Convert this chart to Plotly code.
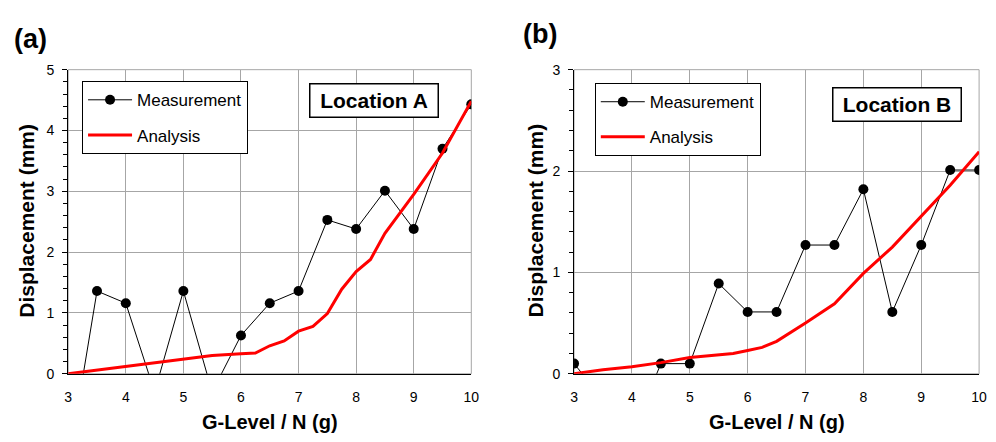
import plotly.graph_objects as go

# ---- data ----
g_levels = [3, 3.5, 4, 4.5, 5, 5.5, 6, 6.5, 7, 7.5, 8, 8.5, 9, 9.5, 10]
meas_a = [-1.5, 1.36, 1.16, -0.3, 1.36, -0.3, 0.63, 1.16, 1.36, 2.53, 2.38, 3.01, 2.38, 3.70, 4.43]
meas_b = [0.10, -0.25, -0.6, 0.10, 0.10, 0.89, 0.61, 0.61, 1.27, 1.27, 1.82, 0.61, 1.27, 2.01, 2.01]

ana_x_a = [3, 3.5, 4, 4.5, 5, 5.5, 6, 6.25, 6.5, 6.75, 7, 7.25, 7.5, 7.75, 8, 8.25, 8.5, 9, 9.5, 10]
ana_a = [0.0, 0.06, 0.12, 0.18, 0.25, 0.30, 0.33, 0.34, 0.46, 0.54, 0.70, 0.78, 0.99, 1.39, 1.68, 1.88, 2.31, 2.95, 3.63, 4.48]

ana_x_b = [3, 3.5, 4, 4.5, 5, 5.5, 5.75, 6, 6.25, 6.5, 7, 7.5, 8, 8.5, 9, 9.5, 10]
ana_b = [0.0, 0.04, 0.07, 0.11, 0.16, 0.19, 0.20, 0.23, 0.26, 0.32, 0.50, 0.69, 0.99, 1.25, 1.55, 1.86, 2.19]

labels = ["Measurement", "Analysis"]
locations = ["Location A", "Location B"]
panel_tags = ["(a)", "(b)"]
x_title = "G-Level / N (g)"
y_title = "Displacement (mm)"

FONT = "Liberation Sans, Arial, sans-serif"
W, H = 996, 442

fig = go.Figure()

fig.add_trace(go.Scatter(x=g_levels, y=meas_a, mode="lines+markers", name=labels[0],
                         line=dict(color="black", width=1), marker=dict(size=10, color="black"),
                         xaxis="x", yaxis="y", legend="legend", legendgroup="m"))
fig.add_trace(go.Scatter(x=ana_x_a, y=ana_a, mode="lines", name=labels[1],
                         line=dict(color="#ff0000", width=3),
                         xaxis="x", yaxis="y", legend="legend", legendgroup="a"))
fig.add_trace(go.Scatter(x=g_levels, y=meas_b, mode="lines+markers", name=labels[0],
                         line=dict(color="black", width=1), marker=dict(size=10, color="black"),
                         xaxis="x2", yaxis="y2", legend="legend2", legendgroup="m2"))
fig.add_trace(go.Scatter(x=ana_x_b, y=ana_b, mode="lines", name=labels[1],
                         line=dict(color="#ff0000", width=3),
                         xaxis="x2", yaxis="y2", legend="legend2", legendgroup="a2"))

def px_x(p):
    return p / W

def px_y(p):
    return 1 - p / H

ydom = [px_y(379.5), px_y(64)]
xdom_a = [px_x(65), px_x(473)]
xdom_b = [px_x(577), px_x(987)]

grid = "#a6a6a6"

def xaxis(dom, anchor):
    return dict(domain=dom, anchor=anchor, range=[3, 10], dtick=1, showgrid=True,
                gridcolor=grid, gridwidth=1, zeroline=False, showline=True,
                linecolor="black", linewidth=1, ticks="", ticklabelstandoff=10,
                tickfont=dict(family=FONT, size=14, color="black"))

def yaxis(dom, anchor, top):
    return dict(domain=dom, anchor=anchor, range=[0, top], dtick=1, showgrid=True,
                gridcolor=grid, gridwidth=1, zeroline=False, showline=True,
                linecolor="black", linewidth=1, ticks="outside", ticklen=5,
                tickcolor="black", ticklabelstandoff=5,
                minor=dict(dtick=0.2, ticks="outside", ticklen=4, tickcolor="black", showgrid=False),
                tickfont=dict(family=FONT, size=14, color="black"))

legend_common = dict(bgcolor="white", bordercolor="black", borderwidth=1,
                     font=dict(family=FONT, size=17, color="black"),
                     xanchor="left", yanchor="top", tracegroupgap=10,
                     traceorder="grouped", itemwidth=44)

fig.update_layout(
    width=W, height=H, autosize=False,
    margin=dict(l=0, r=0, t=0, b=0),
    paper_bgcolor="white", plot_bgcolor="white",
    font=dict(family=FONT, color="black"),
    xaxis=xaxis(xdom_a, "y"),
    yaxis=yaxis(ydom, "x", 5),
    xaxis2=xaxis(xdom_b, "y2"),
    yaxis2=yaxis(ydom, "x2", 3),
    legend=dict(x=px_x(79), y=px_y(76), **legend_common),
    legend2=dict(x=px_x(598), y=px_y(78), **legend_common),
    showlegend=True,
)

for xr, yr in (("x domain", "y domain"), ("x2 domain", "y2 domain")):
    fig.add_shape(type="rect", xref=xr, yref=yr, x0=0, x1=1, y0=0, y1=1,
                  line=dict(color=grid, width=1), layer="below")

annos = []
for txt, cx, cy in ((locations[0], 375, 96), (locations[1], 904, 100)):
    annos.append(dict(text="<b>%s</b>" % txt, x=px_x(cx), y=px_y(cy), xref="paper", yref="paper",
                      showarrow=False, font=dict(family=FONT, size=21, color="black"),
                      bgcolor="white", bordercolor="black", borderwidth=1.5, borderpad=2,
                      width=123, height=28, xanchor="center", yanchor="middle"))
for txt, cx, cy in ((panel_tags[0], 27, 32), (panel_tags[1], 543, 27)):
    annos.append(dict(text="<b>%s</b>" % txt, x=px_x(cx), y=px_y(cy), xref="paper", yref="paper",
                      showarrow=False, font=dict(family=FONT, size=27, color="black"),
                      xanchor="center", yanchor="middle"))
for cx in (22, 537):
    annos.append(dict(text="<b>%s</b>" % y_title, x=px_x(cx), y=px_y(221), xref="paper", yref="paper",
                      showarrow=False, textangle=-90, font=dict(family=FONT, size=21, color="black"),
                      xanchor="center", yanchor="middle"))
for cx in (269, 782):
    annos.append(dict(text="<b>%s</b>" % x_title, x=px_x(cx), y=px_y(430), xref="paper", yref="paper",
                      showarrow=False, font=dict(family=FONT, size=20, color="black"),
                      xanchor="center", yanchor="middle"))
fig.update_layout(annotations=annos)

fig.write_html("out.html", config={"displayModeBar": False},
               post_script="document.body.style.margin='0';document.body.style.overflow='hidden';")
